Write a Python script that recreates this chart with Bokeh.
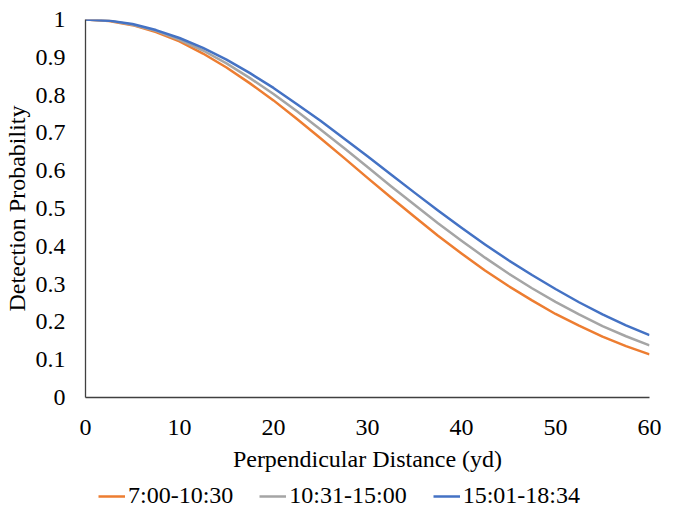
from bokeh.plotting import figure
from bokeh.layouts import column
from bokeh.models import Range1d, FixedTicker, Legend, LegendItem, NumeralTickFormatter
from bokeh.embed import file_html
from bokeh.resources import INLINE

# Perpendicular distance (yd)
distance = [0, 2.5, 5, 7.5, 10, 12.5, 15, 17.5, 20, 22.5, 25, 27.5, 30,
            32.5, 35, 37.5, 40, 42.5, 45, 47.5, 50, 52.5, 55, 57.5, 60]

# Detection probability per time-of-day period
p_0700_1030 = [1.000, 0.996, 0.985, 0.967, 0.942, 0.910, 0.873, 0.831, 0.786,
               0.737, 0.686, 0.634, 0.581, 0.529, 0.478, 0.428, 0.381, 0.336,
               0.295, 0.257, 0.221, 0.190, 0.161, 0.136, 0.114]
p_1031_1500 = [1.000, 0.997, 0.986, 0.970, 0.946, 0.918, 0.884, 0.845, 0.803,
               0.757, 0.709, 0.660, 0.610, 0.559, 0.510, 0.461, 0.415, 0.370,
               0.328, 0.289, 0.253, 0.220, 0.189, 0.162, 0.138]
p_1501_1834 = [1.000, 0.997, 0.988, 0.972, 0.951, 0.925, 0.894, 0.858, 0.819,
               0.776, 0.732, 0.685, 0.638, 0.590, 0.542, 0.495, 0.449, 0.405,
               0.363, 0.324, 0.287, 0.252, 0.220, 0.191, 0.165]

series_names = ["7:00-10:30", "10:31-15:00", "15:01-18:34"]
series_values = [p_0700_1030, p_1031_1500, p_1501_1834]
series_colors = ["#ED7D31", "#A5A5A5", "#4472C4"]

x_ticks = [0, 10, 20, 30, 40, 50, 60]
y_ticks = [0, 0.1, 0.2, 0.3, 0.4, 0.5, 0.6, 0.7, 0.8, 0.9, 1]

FONT = "Liberation Serif"
FS = "24px"

p = figure(width=662, height=481, output_backend="svg", toolbar_location=None,
           x_range=Range1d(0, 60), y_range=Range1d(0, 1),
           min_border_left=84, min_border_right=13, min_border_top=19,
           min_border_bottom=84)
p.outline_line_color = None
p.xgrid.grid_line_color = None
p.ygrid.grid_line_color = None

for vals, col in zip(series_values, series_colors):
    p.line(distance, vals, line_color=col, line_width=2.5, line_join="round")

for ax in (p.xaxis[0], p.yaxis[0]):
    ax.axis_line_color = "#404040"
    ax.axis_line_width = 1.3
    ax.major_tick_line_color = None
    ax.minor_tick_line_color = None
    ax.major_tick_out = 0
    ax.major_tick_in = 0
    ax.major_label_text_font = FONT
    ax.major_label_text_font_size = FS
    ax.major_label_text_color = "black"
    ax.axis_label_text_font = FONT
    ax.axis_label_text_font_size = FS
    ax.axis_label_text_font_style = "normal"
    ax.axis_label_text_color = "black"

p.xaxis[0].ticker = FixedTicker(ticks=x_ticks)
p.yaxis[0].ticker = FixedTicker(ticks=y_ticks)
p.yaxis[0].formatter = NumeralTickFormatter(format="0.[0]")
p.xaxis[0].formatter = NumeralTickFormatter(format="0")
p.xaxis[0].axis_label = "Perpendicular Distance (yd)"
p.yaxis[0].axis_label = "Detection Probability"
p.xaxis[0].major_label_standoff = 22
p.yaxis[0].major_label_standoff = 20
p.xaxis[0].axis_label_standoff = 8
p.yaxis[0].axis_label_standoff = 3

# Legend strip below the chart (proxy renderers hold a single point, so draw nothing)
leg_fig = figure(width=662, height=28, output_backend="svg", toolbar_location=None,
                 x_range=Range1d(0, 1), y_range=Range1d(0, 1),
                 x_axis_location=None, y_axis_location=None,
                 min_border_left=0, min_border_right=0, min_border_top=0,
                 min_border_bottom=0)
leg_fig.outline_line_color = None
leg_fig.xgrid.grid_line_color = None
leg_fig.ygrid.grid_line_color = None
leg_renderers = [leg_fig.line(x=[distance[0]], y=[vals[0]], line_color=c, line_width=2.5)
                 for vals, c in zip(series_values, series_colors)]

legend = Legend(
    items=[LegendItem(label=n, renderers=[r]) for n, r in zip(series_names, leg_renderers)],
    orientation="horizontal", location=(13, 0), padding=0, margin=0,
    spacing=26, glyph_width=27, label_standoff=3,
    label_text_font=FONT, label_text_font_size=FS, label_text_color="black",
    border_line_color=None, background_fill_alpha=0,
)
leg_fig.add_layout(legend, "center")

layout = column(p, leg_fig, spacing=0)
open("out.html", "w").write(file_html(layout, INLINE))
